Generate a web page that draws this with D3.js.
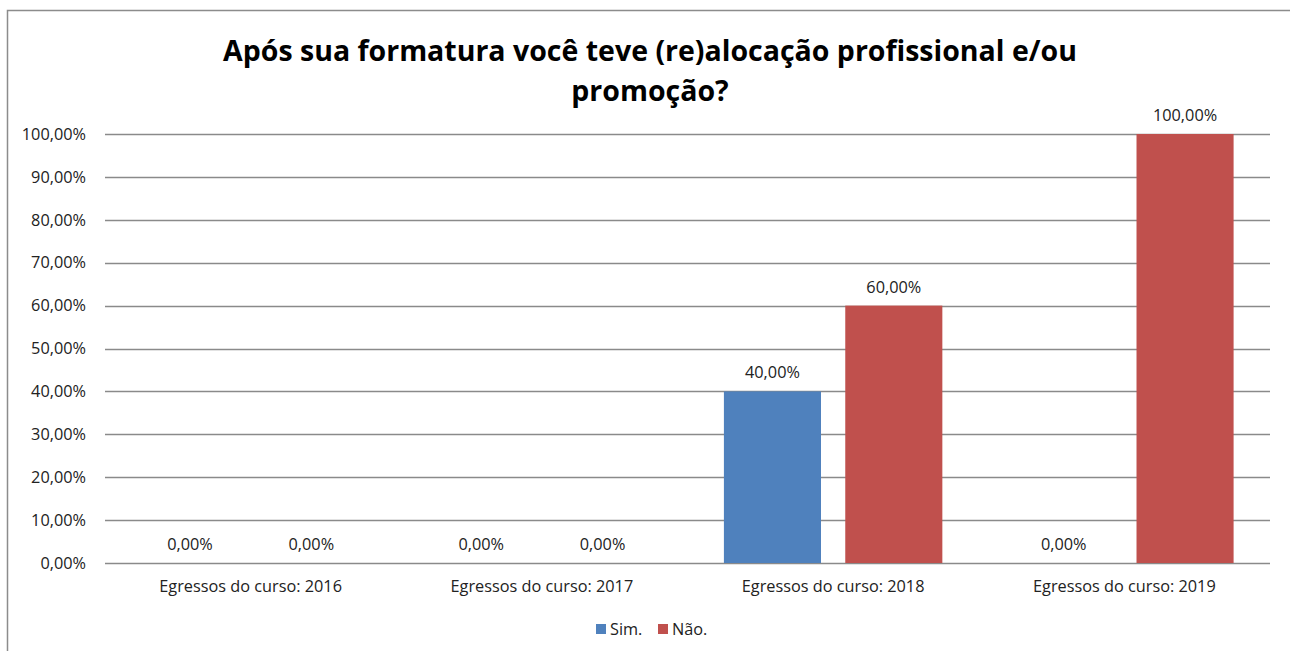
<!DOCTYPE html>
<html><head><meta charset="utf-8">
<script src="https://cdn.jsdelivr.net/npm/d3@7"></script>
<style>body{margin:0;background:#fff;font-family:"Open Sans",sans-serif;}</style>
</head><body>
<svg id="c" width="1290" height="651"></svg>
<script>
const categories = ["Egressos do curso: 2016","Egressos do curso: 2017","Egressos do curso: 2018","Egressos do curso: 2019"];
const seriesNames = ["Sim.","Não."];
const simValues = [0, 0, 40, 0];
const naoValues = [0, 0, 60, 100];
const seriesColors = ["#4F81BD","#C0504D"];
const yTicks = [0,10,20,30,40,50,60,70,80,90,100];
const titleLines = ["Após sua formatura você teve (re)alocação profissional e/ou","promoção?"];

const svg = d3.select("#c");
const fontF = "'Open Sans', sans-serif";
const fs = 16.3;
// outer border
svg.append("rect").attr("x",7.5).attr("y",10.5).attr("width",1400).attr("height",800)
  .attr("fill","none").attr("stroke","#8c8c8c").attr("stroke-width",1.5);

const L = 105, R = 1270, T = 134, B = 563;
const x0 = d3.scaleBand().domain(categories).range([L,R]).paddingInner(0.25).paddingOuter(0.125);
const x1 = d3.scaleBand().domain(seriesNames).range([0,x0.bandwidth()]).paddingInner(0.2);
const y = d3.scaleLinear().domain([0,100]).range([B,T]);
const fmt = v => d3.format(".2f")(v).replace(".",",") + "%";

// gridlines
svg.append("g").selectAll("line").data(yTicks).join("line")
  .attr("x1",L).attr("x2",R).attr("y1",d=>Math.round(y(d))+0.5).attr("y2",d=>Math.round(y(d))+0.5)
  .attr("stroke","#8a8a8a").attr("stroke-width",1.5);

// y axis labels
const yAxis = d3.axisLeft(y).tickValues(yTicks).tickFormat(fmt).tickSize(0).tickPadding(0);
const ya = svg.append("g").attr("transform",`translate(86,0)`).call(yAxis);
ya.select(".domain").remove();
ya.selectAll("text").attr("font-family",fontF).attr("font-size",fs).attr("fill","#222");

// x axis labels
const xAxis = d3.axisBottom(x0).tickSize(0).tickPadding(0);
const xa = svg.append("g").attr("transform",`translate(0,${B+17})`).call(xAxis);
xa.select(".domain").remove();
xa.selectAll("text").attr("font-family",fontF).attr("font-size",fs).attr("fill","#222");

// bars
const data = categories.map((c,i)=>({cat:c, vals:[simValues[i], naoValues[i]]}));
const groups = svg.append("g").selectAll("g").data(data).join("g")
  .attr("transform",d=>`translate(${x0(d.cat)},0)`);
groups.selectAll("rect").data(d=>d.vals.map((v,j)=>({s:seriesNames[j],v,j}))).join("rect")
  .attr("x",d=>x1(d.s)).attr("width",x1.bandwidth())
  .attr("y",d=>y(d.v)).attr("height",d=>y(0)-y(d.v))
  .attr("fill",d=>seriesColors[d.j]);
groups.selectAll("text").data(d=>d.vals.map((v,j)=>({s:seriesNames[j],v,j}))).join("text")
  .attr("x",d=>x1(d.s)+x1.bandwidth()/2).attr("y",d=>y(d.v)-13)
  .attr("text-anchor","middle").attr("font-family",fontF).attr("font-size",fs).attr("fill","#222")
  .text(d=>fmt(d.v));

// title
svg.append("g").selectAll("text").data(titleLines).join("text")
  .attr("x",650).attr("y",(d,i)=>61+i*40).attr("text-anchor","middle")
  .attr("font-family",fontF).attr("font-weight","bold").attr("font-size",28.5).attr("fill","#000")
  .text(d=>d);

// legend
const leg = svg.append("g").attr("transform","translate(596,630)");
const items = leg.selectAll("g").data(seriesNames).join("g")
  .attr("transform",(d,i)=>`translate(${i*62},0)`);
items.append("rect").attr("x",0).attr("y",-6).attr("width",10).attr("height",10).attr("fill",(d,i)=>seriesColors[i]);
items.append("text").attr("x",14).attr("y",5).attr("font-family",fontF).attr("font-size",fs).attr("fill","#222").text(d=>d);
</script>
</body></html>
